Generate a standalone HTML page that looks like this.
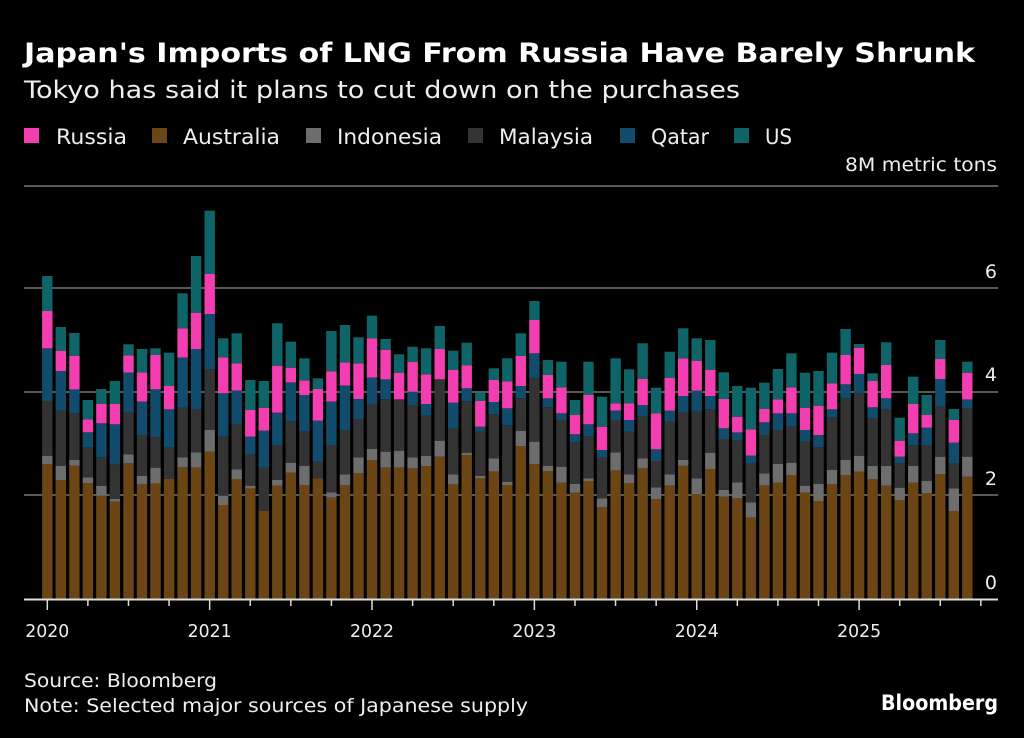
<!DOCTYPE html>
<html><head><meta charset="utf-8"><style>
body{margin:0;background:#000;width:1024px;height:738px;overflow:hidden;font-family:"DejaVu Sans",sans-serif;color:#fff}
</style></head><body>
<svg width="1024" height="738" style="position:absolute;left:0;top:0" id="s" font-family="DejaVu Sans"></svg>
<script>
var Z=[[792,767,603,445,333,228],[840,797,632,513,452,381],[797,780,640,568,467,399],[850,832,742,697,658,600],[887,858,773,670,612,567],[905,897,793,673,612,543],[790,763,638,518,466,433],[853,828,705,605,517,447],[850,803,712,568,465,445],[837,837,743,628,558,458],[802,772,623,473,385,280],[803,757,627,447,338,168],[755,690,508,342,222,32],[915,887,710,580,472,415],[837,808,673,572,490,400],[865,857,763,710,630,540],[933,933,803,692,623,543],[857,840,735,638,497,370],[818,788,665,547,503,425],[855,797,693,585,541,475],[835,835,785,662,567,535],[893,877,735,605,514,393],[855,823,690,557,487,375],[820,772,657,597,490,412],[780,747,612,533,415,347],[802,755,598,538,449,417],[802,752,598,598,519,463],[805,772,617,575,486,440],[798,768,647,612,523,445],[770,722,538,538,447,378],[853,823,685,608,509,452],[765,758,605,565,496,428],[835,828,693,680,603,577],[815,775,643,606,540,505],[855,845,677,625,544,475],[738,693,595,558,468,400],[792,725,535,460,360,303],[813,797,622,595,525,480],[848,800,660,640,562,485],[878,852,728,703,645,600],[843,835,710,673,585,485],[922,895,773,750,680,590],[812,757,660,632,610,475],[850,823,695,660,610,508],[805,775,650,615,537,430],[897,862,783,748,640,563],[857,823,665,632,533,455],[797,780,638,588,475,385],[882,835,635,572,482,415],[807,758,628,588,510,420],[890,870,717,685,597,517],[895,847,720,697,650,558],[953,907,790,767,688,563],[857,820,705,667,627,548],[848,792,690,640,598,507],[825,788,680,640,562,460],[878,857,725,690,623,518],[903,852,742,705,617,513],[853,810,652,628,550,458],[825,780,595,553,465,387],[815,767,578,522,443,432],[838,798,655,622,543,520],[857,798,627,595,495,427],[900,863,790,770,722,653],[848,798,737,700,612,530],[880,843,737,683,645,585],[822,770,620,537,477,420],[933,865,790,728,660,627],[830,770,625,598,518,485]];
var C=["#6b4614","#6d6d6d","#333333","#124c6c","#f23eb0","#0e6466"];
function T(x,y,s,t,len,opt){return '<text x="'+x+'" y="'+y+'" font-size="'+s+'" fill="'+((opt&&opt.fill)||'#eee')+'"'+(len?' textLength="'+len+'" lengthAdjust="spacingAndGlyphs"':'')+((opt&&opt.b)?' font-weight="bold"':'')+((opt&&opt.a)?' text-anchor="'+opt.a+'"':'')+'>'+t+'</text>';}
var h='';
h+=T(24,62,27,"Japan's Imports of LNG From Russia Have Barely Shrunk",951,{b:1,fill:'#fff'});
h+=T(24,98,24,"Tokyo has said it plans to cut down on the purchases",716);
[[186,"8M metric tons",164,152],[288,"6",271,0],[392,"4",374,0],[495,"2",478,0]].forEach(function(g){h+='<line x1="24" x2="998" y1="'+g[0]+'" y2="'+g[0]+'" stroke="#777" stroke-width="1.5"/>';h+=g[3]?T(845,g[2]+7,19,g[1],152):T(997,g[2]+7,19,g[1],0,{a:'end'});});
h+=T(997,589,19,"0",0,{a:'end'});
Z.forEach(function(b,i){var x=47.3+i*13.53-5.2;var prev=599;for(var k=0;k<6;k++){var y=200+b[k]/3;if(prev-y>0.1)h+='<rect x="'+x.toFixed(1)+'" y="'+y.toFixed(1)+'" width="10.4" height="'+(prev-y).toFixed(1)+'" fill="'+C[k]+'"/>';prev=Math.min(prev,y);}});
h+='<line x1="24" x2="998" y1="599.5" y2="599.5" stroke="#ddd" stroke-width="2"/>';
for(var q=0;q<24;q++){var x=47.3+q*3*13.53;var yr=q%4==0;h+='<line x1="'+x+'" x2="'+x+'" y1="600" y2="'+(yr?610:606)+'" stroke="#ddd" stroke-width="1.5"/>';if(yr)h+=T(x,637,18,2020+q/4,44,{a:'middle'});}
var L=[["Russia",24,56,71],["Australia",152,183,97],["Indonesia",306,337,105],["Malaysia",468,499,94],["Qatar",620,651,58],["US",734,765,27]];
var LC=["#f23eb0","#6b4614","#6d6d6d","#333333","#124c6c","#0e6466"];
L.forEach(function(l,i){h+='<rect x="'+l[1]+'" y="128" width="15" height="15" fill="'+LC[i]+'"/>'+T(l[2],144,21,l[0],l[3]);});
h+=T(24,687,19,"Source: Bloomberg",193);
h+=T(24,712,19,"Note: Selected major sources of Japanese supply",504);
h+=T(881,710,21,"Bloomberg",117,{b:1,fill:'#fff'});
document.getElementById('s').innerHTML=h;
</script>
</body></html>
